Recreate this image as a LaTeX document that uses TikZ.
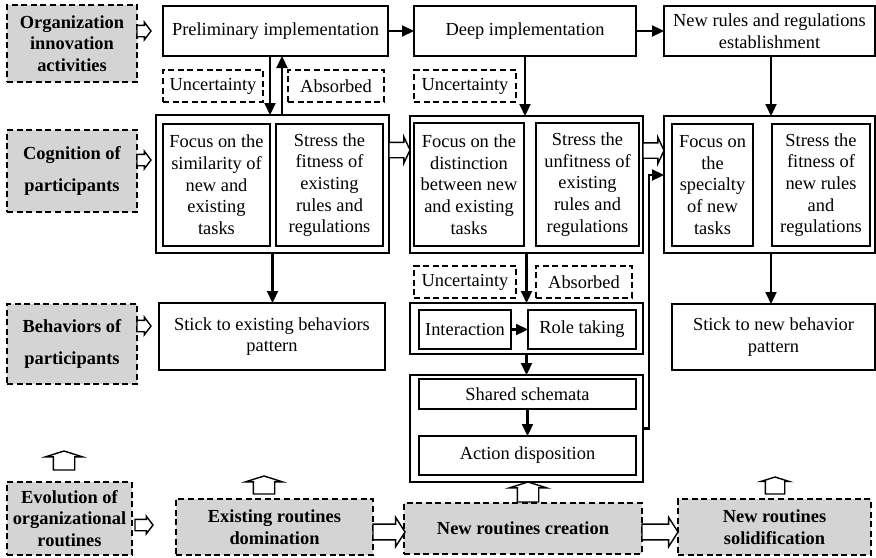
\documentclass[tikz,border=0pt]{standalone}
\usepackage{fontspec}
\setmainfont{Liberation Serif}
\usetikzlibrary{arrows.meta, positioning, calc, shapes.arrows}
\definecolor{routinegray}{HTML}{D4D4D4}

\begin{document}
\begin{tikzpicture}[
      x=0.5pt, y=-0.5pt,
      font=\fontsize{9.2pt}{10.85pt}\selectfont,
      every node/.style={inner sep=0pt, outer sep=0pt},
      stage/.style={draw, line width=0.9pt, align=center},
      tag/.style={draw, dash pattern=on 3pt off 1.8pt, line width=0.8pt, align=center},
      dimension/.style={
        draw,
        dash pattern=on 3pt off 1.8pt,
        line width=0.8pt,
        fill=routinegray,
        align=center,
        font=\fontsize{9.2pt}{10.85pt}\selectfont\bfseries
      },
      flow/.style={-{Triangle[length=6pt, width=5.5pt]}, line width=1.1pt},
      hollow/.style={single arrow, draw, fill=white, line width=0.7pt, minimum width=0pt},
      sidearrow/.style={hollow, inner ysep=2.5pt, single arrow head extend=1.5pt,
        single arrow tip angle=106, minimum height=7pt, anchor=tail},
      fatarrow/.style={hollow, inner ysep=3.6pt, single arrow head extend=3.4pt,
        single arrow tip angle=115, anchor=tail},
      uparrow/.style={hollow, inner ysep=5pt, single arrow head extend=4pt,
        single arrow tip angle=145, minimum height=9.5pt, rotate=90, anchor=tail}
    ]
    \useasboundingbox (0,0) rectangle (876,557);

    % dimensions on the left and routines at the bottom
    \node[dimension, minimum width=65pt, minimum height=38.5pt] (org) at (72,43.5)
      {Organization\\innovation\\activities};
    \node[dimension, minimum width=65pt, minimum height=41pt] (cog) at (72,171)
      {Cognition of\\[5pt]participants};
    \node[dimension, minimum width=65pt, minimum height=40pt] (beh) at (72,344)
      {Behaviors of\\[5pt]participants};
    \node[dimension, minimum width=62.5pt, minimum height=36.5pt] (evo) at (69.5,518.5)
      {Evolution of\\organizational\\routines};
    \node[dimension, minimum width=98.5pt, minimum height=28pt] (exist) at (274.5,527)
      {Existing routines\\domination};
    \node[dimension, minimum width=119pt, minimum height=25.5pt] (create) at (523,528.5)
      {New routines creation};
    \node[dimension, minimum width=96.5pt, minimum height=28pt] (solid) at (774.5,527)
      {New routines\\solidification};

    % innovation activities
    \node[stage, minimum width=112.5pt, minimum height=25pt] (prelim) at (275.5,31)
      {Preliminary implementation};
    \node[stage, minimum width=111pt, minimum height=25pt] (deep) at (525,31)
      {Deep implementation};
    \node[stage, minimum width=105.5pt, minimum height=25pt] (newrules) at (769.5,31)
      {New rules and regulations\\establishment};

    \node[tag, minimum width=50pt, minimum height=16pt] (unc1) at (213,86) {Uncertainty};
    \node[tag, minimum width=48pt, minimum height=16pt] (abs1) at (336,86) {Absorbed};
    \node[tag, minimum width=51pt, minimum height=16pt] (unc2) at (465,86) {Uncertainty};

    % cognition of participants
    \node[stage, minimum width=116.5pt, minimum height=69pt] (cog1) at (272.5,184) {};
    \node[stage, minimum width=53.5pt, minimum height=61pt] (cog1a) at (216.5,185)
      {Focus on the\\similarity of\\new and\\existing\\tasks};
    \node[stage, minimum width=53.5pt, minimum height=61pt] (cog1b) at (329.5,185)
      {Stress the\\fitness of\\existing\\rules and\\regulations};
    \node[stage, minimum width=116.5pt, minimum height=68.5pt] (cog2) at (526.5,184.5) {};
    \node[stage, minimum width=55pt, minimum height=61.5pt] (cog2a) at (469,184.5)
      {Focus on the\\distinction\\between new\\and existing\\tasks};
    \node[stage, minimum width=51.5pt, minimum height=61.5pt] (cog2b) at (587.5,184.5)
      {Stress the\\unfitness of\\existing\\rules and\\regulations};
    \node[stage, minimum width=105.5pt, minimum height=68.5pt] (cog3) at (769.5,184.5) {};
    \node[stage, minimum width=40.5pt, minimum height=61pt] (cog3a) at (712.5,185)
      {Focus on\\the\\specialty\\of new\\tasks};
    \node[stage, minimum width=49pt, minimum height=61pt] (cog3b) at (821,185)
      {Stress the\\fitness of\\new rules\\and\\regulations};

    \node[tag, minimum width=51pt, minimum height=16pt] (unc3) at (465,282) {Uncertainty};
    \node[tag, minimum width=48pt, minimum height=16pt] (abs3) at (584,282) {Absorbed};

    % behaviors of participants
    \node[stage, minimum width=113pt, minimum height=33.5pt] (stick1) at (272,336.5)
      {Stick to existing behaviors\\pattern};
    \node[stage, minimum width=116.5pt, minimum height=25.5pt] (inter) at (526.5,328.5) {};
    \node[stage, minimum width=46pt, minimum height=19.5pt] (interact) at (465,329.5)
      {Interaction};
    \node[stage, minimum width=54pt, minimum height=19.5pt] (role) at (582,329.5)
      {Role taking};
    \node[stage, minimum width=116.5pt, minimum height=53.5pt] (schema) at (526.5,428.5) {};
    \node[stage, minimum width=108.5pt, minimum height=15pt] (shared) at (527.5,394)
      {Shared schemata};
    \node[stage, minimum width=108.5pt, minimum height=19.5pt] (action) at (527.5,455.5)
      {Action disposition};
    \node[stage, minimum width=101.5pt, minimum height=33pt] (stick2) at (773.5,337)
      {Stick to new behavior\\pattern};

    % connectors
    \draw[flow] (prelim) -- (deep);
    \draw[flow] (deep) -- (newrules);
    \draw[flow] ([xshift=-2.75pt]prelim.south) -- ([xshift=-2.75pt]prelim.south |- cog1.north);
    \draw[flow] ([xshift=3.25pt]prelim.south |- cog1.north) -- ([xshift=3.25pt]prelim.south);
    \draw[flow] (deep.south) -- (deep.south |- cog2.north);
    \draw[flow] ([xshift=0.75pt]newrules.south) -- ([xshift=0.75pt]newrules.south |- cog3.north);
    \draw[flow] (cog1.south) -- (cog1.south |- stick1.north);
    \draw[flow] (cog2.south) -- (cog2.south |- inter.north);
    \draw[flow] (interact) -- (role);
    \draw[flow] (inter.south) -- (schema.north);
    \draw[flow] (shared) -- (action);
    \draw[flow] ([xshift=0.75pt]cog3.south) -- ([xshift=0.75pt]cog3.south |- stick2.north);
    \draw[flow] (schema.east) -- ++(6,0) |- ([yshift=4.75pt]cog3.west);

    % hollow arrows
    \node[sidearrow] (orgarrow) at (org.east |- prelim.west) {};
    \node[sidearrow] (cogarrow) at ([yshift=5.5pt]cog.east) {};
    \node[sidearrow] (beharrow) at ([yshift=9pt]beh.east) {};
    \node[sidearrow, minimum height=9pt] (evoarrow) at ([xshift=1.5pt, yshift=-3.25pt]evo.east) {};
    \node[fatarrow, inner ysep=3.5pt, single arrow head extend=2.75pt, single arrow tip angle=130,
      minimum height=10.5pt] (cogshift1) at ([yshift=17pt]cog1.east) {};
    \node[fatarrow, inner ysep=3.5pt, single arrow head extend=2.75pt, single arrow tip angle=130,
      minimum height=10.5pt] (cogshift2) at ([yshift=17pt]cog2.east) {};
    \node[fatarrow, minimum height=16pt] (routineshift1) at ([yshift=-2.5pt]exist.east) {};
    \node[fatarrow, minimum height=18pt] (routineshift2) at ([yshift=-1.75pt]create.east) {};
    \node[uparrow] (evoup) at ([xshift=-2.75pt, yshift=6pt]evo.north) {};
    \node[uparrow, minimum height=9pt] (existup) at ([xshift=-5.25pt, yshift=2.5pt]exist.north) {};
    \node[uparrow, minimum height=10pt] (createup) at ([xshift=2.5pt, yshift=0.5pt]create.north) {};
    \node[uparrow, minimum height=8.5pt, single arrow head extend=2.25pt, inner ysep=4.5pt]
      (solidup) at ([xshift=0.25pt, yshift=2.5pt]solid.north) {};
  \end{tikzpicture}
\end{document}
